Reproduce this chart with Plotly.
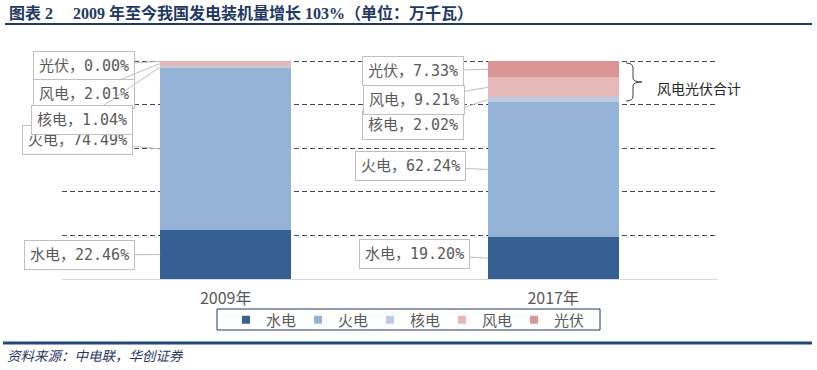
import plotly.graph_objects as go

# ---------------- data ----------------
years = ["2009年", "2017年"]
sources = ["水电", "火电", "核电", "风电", "光伏"]
share_2009 = [22.46, 74.49, 1.04, 2.01, 0.00]
share_2017 = [19.20, 62.24, 2.02, 9.21, 7.33]
colors = ["#376092", "#95B3D7", "#B9CDE5", "#E6B9B8", "#D99694"]

title_text = "图表\u00a02\u00a0\u00a0\u00a0\u00a0\u00a02009 年至今我国发电装机量增长 103%（单位：万千瓦）"
source_text = "资料来源：中电联，华创证券"
bracket_text = "风电光伏合计"

# ---------------- geometry helpers ----------------
W, H = 817, 370
L, R, T, B = 62, 100, 57, 91
YMAX = 102
plot_w = W - L - R
plot_h = H - T - B


def px_x(px):
    return (px - L) / plot_w


def py_y(py):
    return (H - B - py) / plot_h


def py_data(py):
    return (H - B - py) / plot_h * YMAX


def px_idx(px):
    return (px - L) / plot_w * 2 - 0.5


BAR_W = 0.4

fig = go.Figure()
series = [share_2009, share_2017]
for k, s in enumerate(sources):
    fig.add_trace(go.Bar(
        x=years, y=[series[0][k], series[1][k]], name=s,
        marker=dict(color=colors[k], line=dict(width=0)),
        width=BAR_W, showlegend=False, hoverinfo="skip"))

# legend proxies (small square markers)
for k, s in enumerate(sources):
    fig.add_trace(go.Scatter(
        x=[None], y=[None], mode="markers", name=s,
        marker=dict(symbol="square", size=8, color=colors[k]),
        showlegend=True))

label_font = dict(family="DejaVu Sans Mono, Noto Sans CJK SC", size=15, color="#595959")

# label box centres (pixels) and drawing order per year
box_pos = [
    {"水电": (79, 255), "火电": (77, 140), "核电": (82, 120), "风电": (84, 94), "光伏": (84, 66)},
    {"水电": (414, 254), "火电": (410, 166), "核电": (413, 125), "风电": (414, 100), "光伏": (413, 71)},
]
draw_order = [
    ["光伏", "风电", "火电", "核电", "水电"],
    ["核电", "光伏", "风电", "火电", "水电"],
]

annotations = []
for i, vals in enumerate(series):
    cum = {}
    c = 0
    for k, s in enumerate(sources):
        cum[s] = (c, vals[k])
        c += vals[k]
    for s in draw_order[i]:
        base, v = cum[s]
        bx, by = box_pos[i][s]
        annotations.append(dict(
            x=i - BAR_W / 2, y=base + v / 2, xref="x", yref="y",
            ax=px_idx(bx), ay=py_data(by), axref="x", ayref="y",
            text=f"{s}，{v:.2f}%", showarrow=True, arrowhead=0,
            arrowwidth=1, arrowcolor="#BFBFBF",
            bordercolor="#BFBFBF", borderwidth=1, borderpad=5,
            bgcolor="white", font=label_font))

# bracket label
annotations.append(dict(
    x=px_x(655), y=py_data(88), xref="paper", yref="y", xanchor="left", yanchor="middle",
    text=bracket_text, showarrow=False,
    font=dict(family="Noto Sans CJK SC", size=14, color="#262626")))

# title
annotations.append(dict(
    x=px_x(7), y=py_y(13), xref="paper", yref="paper", xanchor="left", yanchor="middle",
    text=f"<b>{title_text}</b>", showarrow=False,
    font=dict(family="Liberation Serif, Noto Sans CJK SC", size=16, color="#1F3864")))

# source
annotations.append(dict(
    x=px_x(5), y=py_y(355), xref="paper", yref="paper", xanchor="left", yanchor="middle",
    text=f"<i>{source_text}</i>", showarrow=False,
    font=dict(family="Noto Sans CJK SC", size=13.5, color="#1F3864")))

# bracket path (x in paper, y in data)
def P(px, py):
    return f"{px_x(px):.5f},{py_data(py):.4f}"

bracket = (f"M{P(626,63)} Q{P(633,63)} {P(633,68)} L{P(633,78)} Q{P(633,82)} {P(642,82)} "
           f"Q{P(633,82)} {P(633,86)} L{P(633,96)} Q{P(633,101)} {P(626,101)}")

shapes = [
    dict(type="path", xref="paper", yref="y", path=bracket,
         line=dict(color="#404040", width=1)),
    # title rule
    dict(type="line", xref="paper", yref="paper", x0=px_x(5), x1=px_x(812),
         y0=py_y(24), y1=py_y(24), line=dict(color="#1F3864", width=2)),
    # footer rule
    dict(type="line", xref="paper", yref="paper", x0=px_x(3), x1=px_x(812),
         y0=py_y(343), y1=py_y(343), line=dict(color="#1F497D", width=3)),
    # legend frame
    dict(type="rect", xref="paper", yref="paper", x0=px_x(217), x1=px_x(600),
         y0=py_y(309), y1=py_y(330), line=dict(color="#1F3864", width=1)),
]

fig.update_layout(
    width=W, height=H, margin=dict(l=L, r=R, t=T, b=B, autoexpand=False),
    barmode="stack", bargap=0.6,
    paper_bgcolor="white", plot_bgcolor="white",
    font=dict(family="Noto Sans CJK SC", color="#595959"),
    showlegend=True,
    legend=dict(orientation="h", traceorder="normal",
                x=px_x(226), xanchor="left", y=py_y(320), yanchor="middle",
                font=dict(family="Noto Sans CJK SC", size=15, color="#595959"),
                bgcolor="rgba(0,0,0,0)", entrywidth=27, itemwidth=30, tracegroupgap=0),
    annotations=annotations, shapes=shapes,
)
fig.update_xaxes(type="category", categoryorder="array", categoryarray=years,
                 range=[-0.5, 1.5], showgrid=False, showline=False, zeroline=False,
                 ticks="", ticklabelstandoff=8,
                 tickfont=dict(family="Noto Sans CJK SC", size=16, color="#595959"))
fig.update_yaxes(range=[0, YMAX], tick0=0, dtick=20, showticklabels=False,
                 showgrid=True, gridcolor="#3A4A63", gridwidth=1, griddash="5px,3px",
                 zeroline=True, zerolinecolor="#D9D9D9", zerolinewidth=1)

fig.write_html("out.html", config={"displayModeBar": False},
               post_script="document.body.style.margin='0px';")
